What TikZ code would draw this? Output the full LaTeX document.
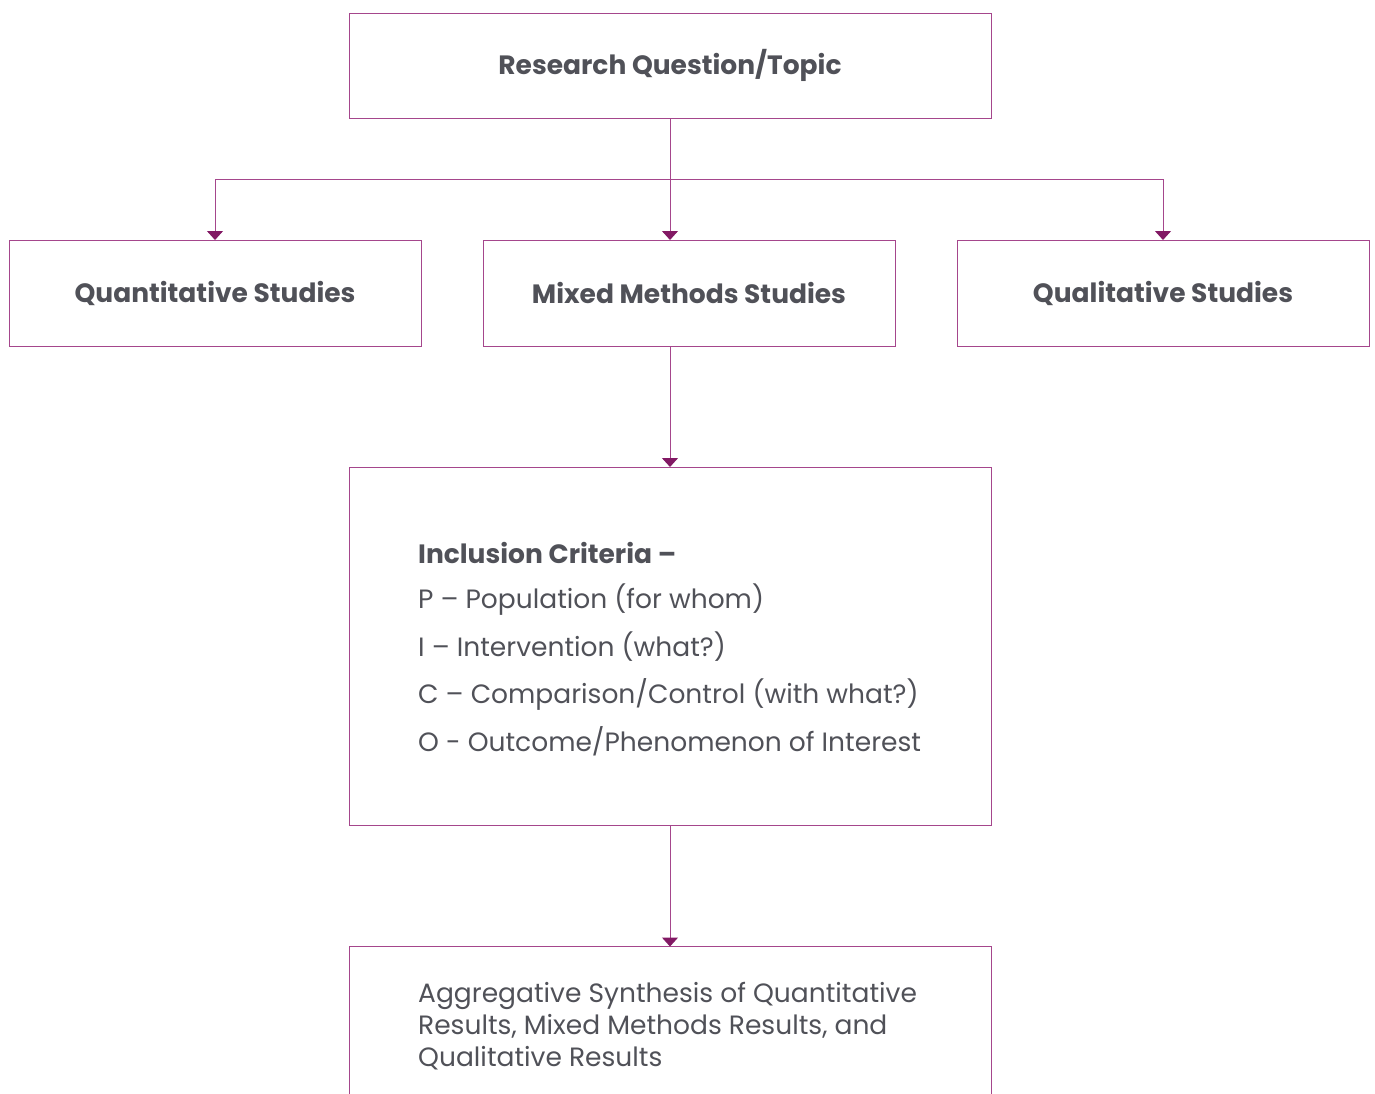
\documentclass[tikz,border=0pt]{standalone}
\usepackage{fontspec}
\setmainfont{Poppins}
\usetikzlibrary{arrows.meta}
\definecolor{linec}{RGB}{165,70,140}
\definecolor{tipc}{RGB}{130,25,100}
\definecolor{txtc}{RGB}{80,81,88}
\tikzset{
  box/.style={draw=linec, line width=1pt, rectangle, inner sep=0pt, text=txtc},
  conn/.style={draw=linec, line width=1pt, -{Triangle[width=16pt,length=9pt,color=tipc]}, shorten >=-0.5pt},
  plain/.style={draw=linec, line width=1pt},
  bfnt/.style={font=\fontsize{26.5}{30}\selectfont\bfseries},
  rtxt/.style={text=txtc, font=\fontsize{26.5}{30}\selectfont, inner sep=0pt, anchor=west},
}
\begin{document}
\begin{tikzpicture}[x=1pt,y=-1pt]
\useasboundingbox (0,0) rectangle (1375,1093);
\node[box, bfnt, minimum width=642pt, minimum height=105pt] (top) at (670,65.5) {Research Question/Topic};
\node[box, bfnt, minimum width=412pt, minimum height=106pt] (quant) at (215,293) {Quantitative Studies};
\node[box, bfnt, minimum width=412pt, minimum height=106pt] (mixed) at (689,293) {Mixed Methods Studies};
\node[box, bfnt, minimum width=412pt, minimum height=106pt] (qual) at (1163,293) {Qualitative Studies};
\node[box, minimum width=642pt, minimum height=358pt] (incl) at (670,646) {};
\node[box, minimum width=642pt, minimum height=300pt, anchor=north] (synth) at (670,946) {};
\coordinate (split) at (670,179);
\draw[plain] (top.south) -- (split);
\draw[conn] (split) -- (top.south |- mixed.north);
\draw[conn] (split) -| (quant.north);
\draw[conn] (split) -| (qual.north);
\draw[conn] (incl.north |- mixed.south) -- (incl.north);
\draw[conn] (incl.south) -- (synth.north);
\node[rtxt, bfnt] (ic) at (418,553) {Inclusion Criteria –};
\node[rtxt] (p) at (418,600) {P – Population (for whom)};
\node[rtxt] (i) at (418,647) {I – Intervention (what?)};
\node[rtxt] (c) at (418,694) {C – Comparison/Control (with what?)};
\node[rtxt] (o) at (418,741) {O - Outcome/Phenomenon of Interest};
\node[rtxt, anchor=north west, align=left, font=\fontsize{26.5}{32}\selectfont] (st) at (418,982) {Aggregative Synthesis of Quantitative\\Results, Mixed Methods Results, and\\Qualitative Results};
\end{tikzpicture}
\end{document}
